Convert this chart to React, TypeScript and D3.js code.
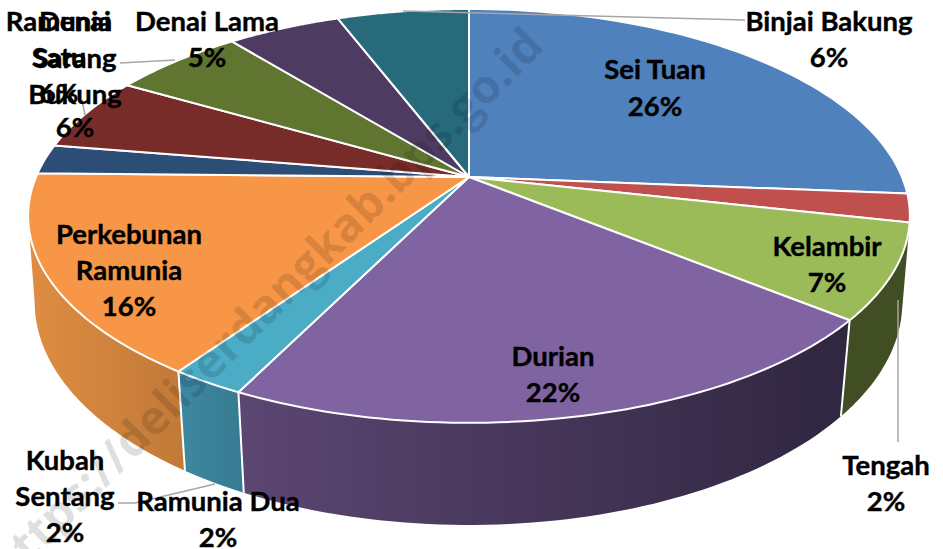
import React from "react";
import * as d3 from "d3";

const names = ["Sei Tuan","Tengah","Kelambir","Durian","Ramunia Dua","Perkebunan Ramunia","Kubah Sentang","Ramunia Satu","Denai Sarang Bukung","Denai Lama","Binjai Bakung"];
const shares = [26.3,2.2,7.4,21.4,2.3,15.7,2.3,5.8,5.8,5.0,5.8];
const percentLabels = ["26%","2%","7%","22%","2%","16%","2%","6%","6%","5%","6%"];
const topColors = ["#4f81bd","#c0504d","#9bbb59","#8064a2","#4bacc6","#f79646","#2c4d75","#772c2a","#5f7530","#4d3b62","#276a7c"];
const wallLeft = ["#4f81bd","#c0504d","#414d23","#5c4672","#3e88a2","#dd8c42","#2c4d75","#772c2a","#5f7530","#4d3b62","#276a7c"];
const wallRight = ["#4f81bd","#c0504d","#414d23","#2f2640","#377c92","#c27a38","#2c4d75","#772c2a","#5f7530","#4d3b62","#276a7c"];

// Draw order of labels; the last line of each is its percentage.
const labelLayout: { index: number; lines: string[]; x: number; y: number[] }[] = [
  { index: 0, lines: ["Sei Tuan"], x: 655, y: [69, 106] },
  { index: 10, lines: ["Binjai Bakung"], x: 829, y: [21, 57] },
  { index: 2, lines: ["Kelambir"], x: 827, y: [246, 282] },
  { index: 3, lines: ["Durian"], x: 553, y: [356, 392] },
  { index: 5, lines: ["Perkebunan", "Ramunia"], x: 129, y: [234, 270, 306] },
  { index: 1, lines: ["Tengah"], x: 886, y: [465, 501] },
  { index: 6, lines: ["Kubah", "Sentang"], x: 65, y: [460, 496, 532] },
  { index: 4, lines: ["Ramunia Dua"], x: 218, y: [501, 537] },
  { index: 9, lines: ["Denai Lama"], x: 207, y: [21, 57] },
  { index: 7, lines: ["Ramunia", "Satu"], x: 59, y: [21, 57, 93] },
  { index: 8, lines: ["Denai", "Sarang", "Bukung"], x: 75, y: [21, 58, 94, 127] },
];
const leaders: [number, number][][] = [
  [[745, 20], [403, 11]],
  [[120, 63], [175, 60]],
  [[82, 100], [85, 115]],
  [[898, 300], [898, 442]],
  [[118, 503], [135, 503], [215, 484]],
];

type Plane = { cx: number; cy: number; a: number; b: number; k: number };
const topPlane: Plane = { cx: 469, cy: 177, a: 433, b: 199.6, k: 0.188 };
const bottomPlane: Plane = { cx: 468.5, cy: 262.5, a: 427, b: 216, k: 0.177 };

// Angle is clockwise from the top of the tilted disc.
const project = (p: Plane, angle: number): [number, number] => {
  const u = Math.sin(angle);
  const v = -Math.cos(angle);
  const w = 1 - p.k * v;
  return [p.cx + (p.a * u) / w, p.cy + (p.b * v) / w];
};
const arcPoints = (p: Plane, a0: number, a1: number) =>
  d3.range(0, 61).map((i) => project(p, a0 + ((a1 - a0) * i) / 60));
// Angle at which a plane's outline is widest on the left: walls stop there.
const leftLimit = (p: Plane) => Math.PI + Math.acos(p.k);

const pie = d3.pie<number>().sort(null).startAngle(0).endAngle(2 * Math.PI);
const arcs = pie(shares);
const path = d3.line();

export default function App() {
  const walls = arcs.map((d, i) => ({ d, i })).filter(({ i }) => i >= 2 && i <= 5);
  return (
    <svg width={943} height={549} style={{ position: "absolute", left: 0, top: 0, background: "#fff" }}>
      <defs>
        {walls.map(({ i, d }) => {
          const s = project(topPlane, d.startAngle);
          const e = project(topPlane, d.endAngle);
          return (
            <linearGradient key={i} id={`wall${i}`} gradientUnits="userSpaceOnUse"
              x1={Math.min(s[0], e[0])} x2={Math.max(s[0], e[0])} y1={0} y2={0}>
              <stop offset="0" stopColor={wallLeft[i]} />
              <stop offset="1" stopColor={wallRight[i]} />
            </linearGradient>
          );
        })}
      </defs>
      {walls.map(({ d, i }) => {
        const t = arcPoints(topPlane, d.startAngle, Math.min(d.endAngle, leftLimit(topPlane)));
        const b = arcPoints(bottomPlane, Math.min(d.endAngle, leftLimit(bottomPlane)), d.startAngle);
        return <path key={names[i]} d={path([...t, ...b])! + "Z"} fill={`url(#wall${i})`} />;
      })}
      {walls.slice(1).map(({ d, i }) => {
        const a = project(topPlane, d.startAngle);
        const b = project(bottomPlane, d.startAngle);
        return <path key={i} d={path([a, b])!} stroke="#fff" strokeWidth={2} fill="none" />;
      })}
      {arcs.map((d, i) => {
        const t = arcPoints(topPlane, d.startAngle, d.endAngle);
        return (
          <path key={names[i]} d={path([[topPlane.cx, topPlane.cy], ...t])! + "Z"}
            fill={topColors[i]} stroke="#fff" strokeWidth={2} strokeLinejoin="round" />
        );
      })}
      <g transform="translate(546 48) rotate(-45)">
        <text x={0} y={0} textAnchor="end" fontFamily="'Open Sans', sans-serif" fontWeight={700} fontSize={47}
          fill="#000" fillOpacity={0.13}>https://deliserdangkab.bps.go.id</text>
      </g>
      {leaders.map((pts, i) => (
        <path key={i} d={path(pts)!} fill="none" stroke="#a6a6a6" strokeWidth={1.5} />
      ))}
      {labelLayout.map((l) => (
        <g key={l.index}>
          {[...l.lines, percentLabels[l.index]].map((t, j) => (
            <text key={j} x={l.x} y={l.y[j]} dy="0.35em" textAnchor="middle"
              fontFamily="Lato, sans-serif" fontWeight={700} fontSize={27.5} fill="#000"
              stroke="#000" strokeWidth={0.4}>{t}</text>
          ))}
        </g>
      ))}
    </svg>
  );
}
